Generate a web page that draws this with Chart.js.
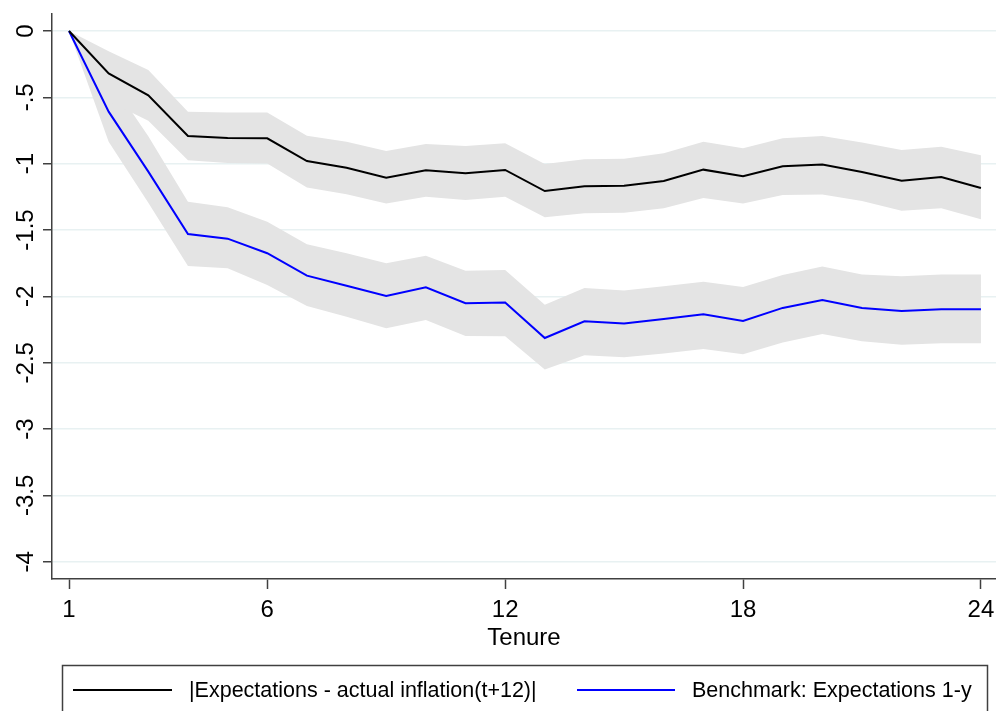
<!DOCTYPE html>
<html>
<head>
<meta charset="utf-8">
<script src="https://cdn.jsdelivr.net/npm/chart.js@4/dist/chart.umd.min.js"></script>
<style>
  html, body { margin: 0; padding: 0; background: #fff; }
  #wrap { width: 996px; height: 711px; position: relative; }
</style>
</head>
<body>
<div id="wrap"><canvas id="chart"></canvas></div>
<script>
// ── Datos ─────────────────────────────────────────────────────────────────────
const tenure = [1, 2, 3, 4, 5, 6, 7, 8, 9, 10, 11, 12, 13, 14, 15, 16, 17, 18, 19, 20, 21, 22, 23, 24];

// |Expectations - actual inflation(t+12)|
const gapMean  = [0, -0.32, -0.485, -0.791, -0.806, -0.809, -0.98, -1.03, -1.105, -1.05, -1.072, -1.047,
                  -1.206, -1.17, -1.166, -1.13, -1.045, -1.095, -1.02, -1.007, -1.063, -1.128, -1.1, -1.183];
const gapUpper = [0, -0.153, -0.294, -0.608, -0.615, -0.615, -0.789, -0.834, -0.904, -0.852, -0.867, -0.846,
                  -1.002, -0.967, -0.962, -0.922, -0.834, -0.884, -0.809, -0.791, -0.841, -0.897, -0.872, -0.937];
const gapLower = [0, -0.53, -0.676, -0.975, -0.995, -0.998, -1.18, -1.23, -1.30, -1.249, -1.274, -1.249,
                  -1.404, -1.374, -1.37, -1.336, -1.258, -1.30, -1.236, -1.233, -1.281, -1.354, -1.336, -1.419];

// Benchmark: Expectations 1-y
const benchMean  = [0, -0.608, -1.06, -1.53, -1.565, -1.675, -1.844, -1.92, -1.997, -1.932, -2.052, -2.047,
                    -2.314, -2.188, -2.205, -2.171, -2.135, -2.185, -2.087, -2.028, -2.088, -2.11, -2.098, -2.097];
const benchUpper = [0, -0.355, -0.793, -1.286, -1.329, -1.437, -1.608, -1.675, -1.751, -1.693, -1.806, -1.801,
                    -2.064, -1.936, -1.955, -1.923, -1.89, -1.93, -1.839, -1.775, -1.835, -1.849, -1.836, -1.836];
const benchLower = [0, -0.834, -1.295, -1.772, -1.789, -1.914, -2.072, -2.153, -2.24, -2.178, -2.298, -2.301,
                    -2.552, -2.443, -2.458, -2.43, -2.397, -2.436, -2.347, -2.283, -2.339, -2.364, -2.354, -2.354];

const xTicks = [1, 6, 12, 18, 24];
const yTicks = [0, -0.5, -1, -1.5, -2, -2.5, -3, -3.5, -4];
const yTickLabels = ['0', '-.5', '-1', '-1.5', '-2', '-2.5', '-3', '-3.5', '-4'];

const seriesNames = ['|Expectations - actual inflation(t+12)|', 'Benchmark: Expectations 1-y'];

// ── Helpers ───────────────────────────────────────────────────────────────────
const pts = arr => arr.map((y, i) => ({ x: tenure[i], y }));
const BAND = '#e4e4e4';
const AXIS = '#404040';

function bandPair(upper, lower) {
  return [
    { data: pts(upper), fill: '+1', backgroundColor: BAND, borderWidth: 0, pointRadius: 0, order: 2 },
    { data: pts(lower), fill: false, borderWidth: 0, pointRadius: 0, order: 2 },
  ];
}

// Leyenda con marco (estilo Stata)
const boxLegend = {
  id: 'boxLegend',
  afterDraw(chart) {
    const ctx = chart.ctx;
    ctx.save();
    ctx.strokeStyle = AXIS;
    ctx.lineWidth = 1.5;
    ctx.strokeRect(62.5, 665.5, 925, 60);

    const items = [
      { color: '#000000', x0: 73, x1: 172, tx: 189, text: seriesNames[0] },
      { color: '#0000ff', x0: 577, x1: 675, tx: 692, text: seriesNames[1] },
    ];
    ctx.font = '21.5px "Liberation Sans", Arial, sans-serif';
    ctx.textBaseline = 'middle';
    ctx.textAlign = 'left';
    items.forEach(it => {
      ctx.strokeStyle = it.color;
      ctx.lineWidth = 2;
      ctx.beginPath();
      ctx.moveTo(it.x0, 690);
      ctx.lineTo(it.x1, 690);
      ctx.stroke();
      ctx.fillStyle = '#000';
      ctx.fillText(it.text, it.tx, 691);
    });
    ctx.restore();
  }
};

// ── Chart ─────────────────────────────────────────────────────────────────────
Chart.defaults.font.family = '"Liberation Sans", Arial, sans-serif';
Chart.defaults.color = '#000';

new Chart(document.getElementById('chart'), {
  type: 'line',
  data: {
    datasets: [
      ...bandPair(gapUpper, gapLower),
      ...bandPair(benchUpper, benchLower),
      { label: seriesNames[0], data: pts(gapMean), borderColor: '#000000', borderWidth: 2, pointRadius: 0, fill: false, tension: 0, order: 0 },
      { label: seriesNames[1], data: pts(benchMean), borderColor: '#0000ff', borderWidth: 2, pointRadius: 0, fill: false, tension: 0, order: 0 },
    ],
  },
  options: {
    responsive: true,
    maintainAspectRatio: false,
    animation: false,
    layout: { padding: { top: 14, right: 0, left: 0, bottom: 0 } },
    plugins: { legend: { display: false }, tooltip: { enabled: false } },
    scales: {
      x: {
        type: 'linear',
        min: 0.571,
        max: 24.38,
        afterBuildTicks: s => { s.ticks = xTicks.map(v => ({ value: v })); },
        afterFit: s => { s.height = 132; s.paddingLeft = 0; s.paddingRight = 0; },
        ticks: { autoSkip: false, maxRotation: 0, padding: 7, font: { size: 24 }, callback: v => String(v) },
        grid: { drawOnChartArea: false, drawTicks: true, tickLength: 10, tickColor: AXIS, tickWidth: 1.5 },
        border: { display: true, color: AXIS, width: 1.5 },
        title: { display: true, text: 'Tenure', font: { size: 24 }, padding: { top: 0, bottom: 58 } },
      },
      y: {
        type: 'linear',
        min: -4.13,
        max: 0.128,
        afterBuildTicks: s => { s.ticks = yTicks.map(v => ({ value: v })); },
        afterFit: s => { s.width = 52; s.paddingTop = 0; s.paddingBottom = 0; },
        ticks: { minRotation: 90, maxRotation: 90, crossAlign: 'center', padding: -4, font: { size: 24 },
                 callback: (v, i) => yTickLabels[i] },
        grid: { color: '#e8f1f2', lineWidth: 1.5, drawTicks: true, tickLength: 9, tickColor: AXIS, tickWidth: 1.5 },
        border: { display: true, color: AXIS, width: 1.5 },
      },
    },
  },
  plugins: [boxLegend],
});
</script>
</body>
</html>
